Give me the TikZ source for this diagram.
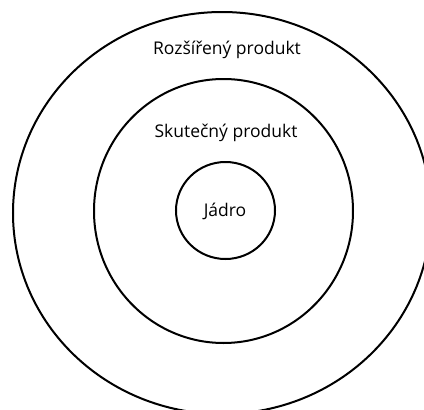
\documentclass[tikz,border=0pt]{standalone}
\usepackage{fontspec}
\setmainfont{Open Sans}
\begin{document}
\begin{tikzpicture}[x=1pt,y=-1pt,
  ring/.style={draw=black,line width=2pt},
  lbl/.style={font=\fontsize{17.5}{20}\selectfont,text=black,inner sep=0pt}]
\useasboundingbox (0,0) rectangle (424,410);
\clip (0,0) rectangle (424,410);
\draw[ring] (222,213) ellipse [x radius=209, y radius=201];
\draw[ring] (223.5,211) ellipse [x radius=129.5, y radius=132];
\draw[ring] (225.5,210.5) ellipse [x radius=49.5, y radius=48.5];
\node[lbl] (outer) at (227,50) {Rozšířený produkt};
\node[lbl] (middle) at (226,133) {Skutečný produkt};
\node[lbl] (core) at (225,211) {Jádro};
\end{tikzpicture}
\end{document}
